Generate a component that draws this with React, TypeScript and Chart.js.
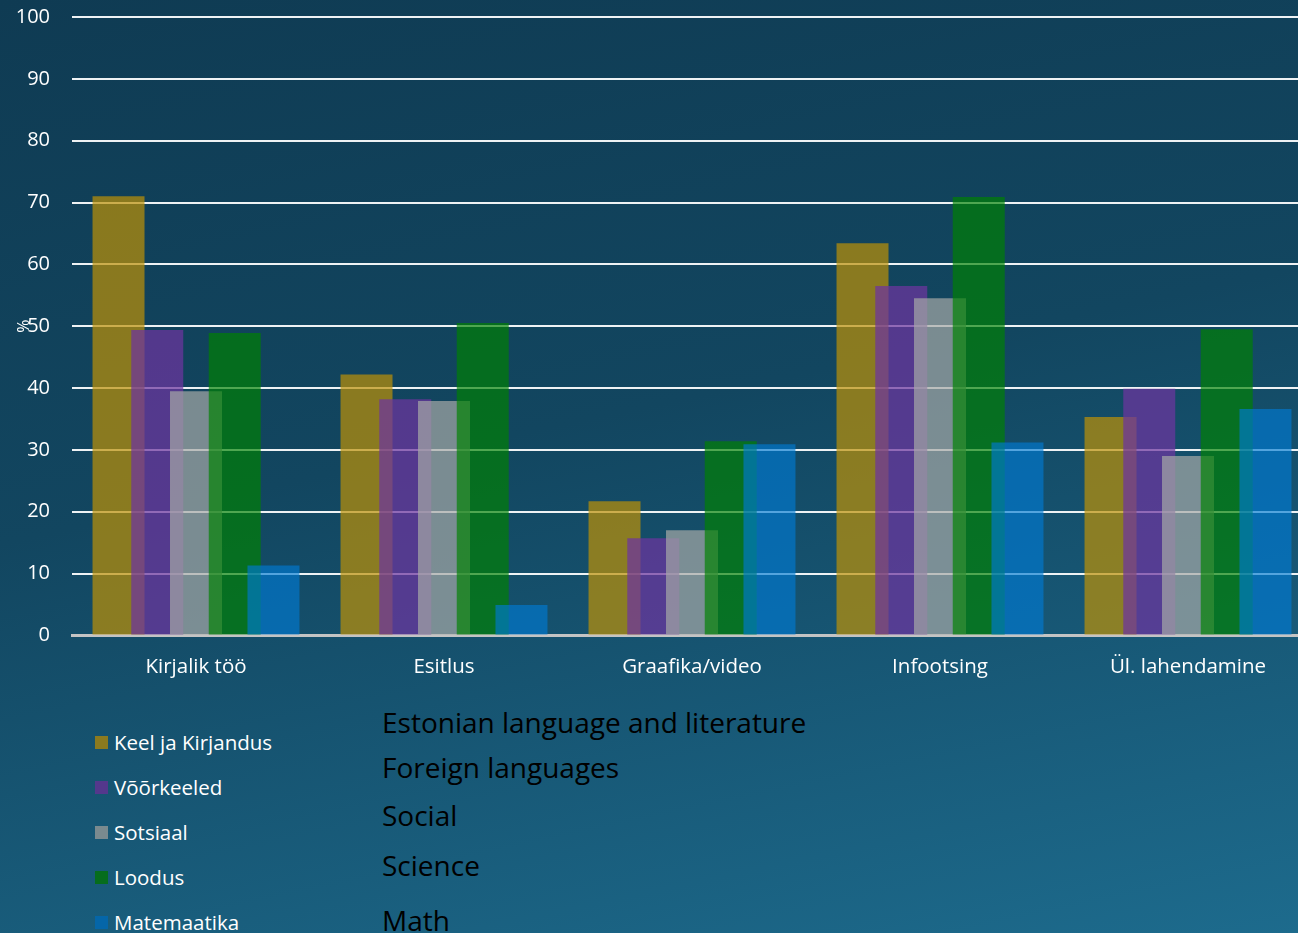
import React, { useEffect, useRef } from "react";
import { Chart, registerables } from "chart.js";

Chart.register(...registerables);

const categories = ["Kirjalik töö", "Esitlus", "Graafika/video", "Infootsing", "Ül. lahendamine"];
const seriesNames = ["Keel ja Kirjandus", "Võõrkeeled", "Sotsiaal", "Loodus", "Matemaatika"];
const englishNames = ["Estonian language and literature", "Foreign languages", "Social", "Science", "Math"];
const keel = [71.0, 42.2, 21.7, 63.4, 35.3];
const voorkeeled = [49.4, 38.2, 15.7, 56.5, 39.9];
const sotsiaal = [39.5, 37.9, 17.0, 54.5, 29.0];
const loodus = [48.9, 50.5, 31.4, 70.9, 49.5];
const matemaatika = [11.3, 4.9, 30.9, 31.2, 36.6];
const yTicks = [0, 10, 20, 30, 40, 50, 60, 70, 80, 90, 100];

const seriesValues = [keel, voorkeeled, sotsiaal, loodus, matemaatika];
const barColors = [
  "rgba(190,146,6,0.70)",
  "rgba(109,52,159,0.72)",
  "rgba(166,169,166,0.70)",
  "rgba(0,130,0,0.67)",
  "rgba(0,121,210,0.65)",
];
const swatchColors = ["#8b7a1f", "#54388c", "#7a8a8f", "#066d1d", "#0566a8"];

const FONT = "'Open Sans', 'DejaVu Sans', sans-serif";

const forwardDraw = {
  id: "forwardDraw",
  beforeDatasetsDraw(chart: any) {
    const ctx = chart.ctx;
    const a = chart.chartArea;
    ctx.save();
    ctx.beginPath();
    ctx.rect(a.left, a.top, a.right - a.left, a.bottom - a.top);
    ctx.clip();
    chart.getSortedVisibleDatasetMetas().forEach((m: any) => m.controller.draw());
    ctx.restore();
    return false;
  },
};

export default function App() {
  const ref = useRef<HTMLCanvasElement>(null);

  useEffect(() => {
    if (!ref.current) return;
    const chart = new Chart(ref.current, {
      type: "bar",
      data: {
        labels: categories,
        datasets: seriesNames.map((name, i) => ({
          label: name,
          data: seriesValues[i],
          backgroundColor: barColors[i],
          borderWidth: 0,
          categoryPercentage: 0.781,
          barPercentage: 1.342,
        })),
      },
      options: {
        responsive: false,
        animation: false,
        maintainAspectRatio: false,
        layout: { padding: { top: 17, right: 0, bottom: 2, left: 0 } },
        plugins: {
          legend: { display: false },
          tooltip: { enabled: false },
        },
        scales: {
          x: {
            grid: { display: false, drawTicks: false },
            border: { display: true, color: "#c4c4c4", width: 3 },
            ticks: { color: "#ffffff", font: { family: FONT, size: 20.5 }, padding: 19 },
          },
          y: {
            min: 0,
            max: 100,
            afterFit: (s: any) => {
              s.width = 72;
              s.paddingTop = 0;
              s.paddingBottom = 0;
            },
            afterBuildTicks: (s: any) => {
              s.ticks = yTicks.map((v) => ({ value: v }));
            },
            grid: { color: "#eef2f4", lineWidth: 2, drawTicks: false },
            border: { display: false },
            ticks: { color: "#ffffff", font: { family: FONT, size: 20 }, padding: 22 },
            title: {
              display: true,
              text: "%",
              color: "#ffffff",
              font: { family: FONT, size: 16 },
              padding: { top: 15, bottom: 0 },
            },
          },
        },
      },
      plugins: [forwardDraw],
    });
    return () => chart.destroy();
  }, []);

  return (
    <div
      style={{
        position: "absolute",
        left: 0,
        top: 0,
        width: 1298,
        height: 933,
        overflow: "hidden",
        background: "linear-gradient(168deg, #0f3b53 0%, #124660 45%, #1d6b8d 100%)",
        fontFamily: FONT,
      }}
    >
      <canvas ref={ref} width={1312} height={700} style={{ position: "absolute", left: 0, top: 0 }} />
      {seriesNames.map((name, i) => (
        <div
          key={name}
          style={{
            position: "absolute",
            left: 95,
            top: 742 + 45 * i - 14,
            height: 28,
            display: "flex",
            alignItems: "center",
            color: "#ffffff",
            fontSize: 20.5,
            whiteSpace: "nowrap",
          }}
        >
          <span style={{ width: 13, height: 13, background: swatchColors[i], display: "inline-block", marginRight: 6 }} />
          {name}
        </div>
      ))}
      {englishNames.map((name, i) => (
        <div
          key={name}
          style={{
            position: "absolute",
            left: 382,
            top: [722, 767, 815, 865, 920][i] - 20,
            height: 40,
            lineHeight: "40px",
            color: "#000000",
            fontSize: 28,
            whiteSpace: "nowrap",
          }}
        >
          {name}
        </div>
      ))}
    </div>
  );
}
